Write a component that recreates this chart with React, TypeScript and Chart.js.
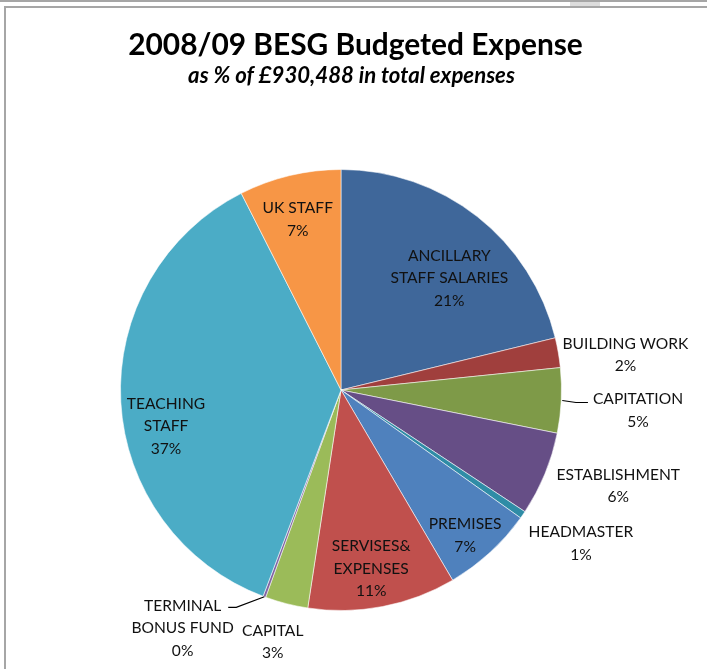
import React, { useEffect, useRef } from "react";
import { Chart, registerables } from "chart.js";

Chart.register(...registerables);

// ---- data ----
const categories: string[][] = [
  ["ANCILLARY", "STAFF SALARIES"],
  ["BUILDING WORK"],
  ["CAPITATION"],
  ["ESTABLISHMENT"],
  ["HEADMASTER"],
  ["PREMISES"],
  ["SERVISES&", "EXPENSES"],
  ["CAPITAL"],
  ["TERMINAL", "BONUS FUND"],
  ["TEACHING", "STAFF"],
  ["UK STAFF"],
];
const shares: number[] = [21.2, 2.18, 4.76, 6.16, 0.55, 6.7, 10.86, 3.14, 0.2, 36.78, 7.47];
const TITLE = "2008/09 BESG Budgeted Expense";
const SUBTITLE = "as % of £930,488 in total expenses";

// ---- styles / layout ----
const colors = [
  "#3F679A",
  "#A03F3D",
  "#7E9A48",
  "#664E86",
  "#2F8CA6",
  "#4F81BD",
  "#C0504D",
  "#9BBB59",
  "#8064A2",
  "#4BACC6",
  "#F79646",
];
// label anchor: [angle in degrees clockwise from 12 o'clock, distance as fraction of radius]
const labelPolar: [number, number][] = [
  [44.0, 0.707],
  [82.9, 1.3],
  [93.8, 1.35],
  [109, 1.33],
  [122.5, 1.29],
  [139.4, 0.865],
  [170.4, 0.82],
  [195.2, 1.181],
  [213.66, 1.296],
  [258.4, 0.81],
  [345.8, 0.8],
];
const leaderIdx = [2, 8];
const FONT = "Lato, 'Open Sans', sans-serif";
const LINE_H = 22.5;

function fitSize(ctx: CanvasRenderingContext2D, text: string, prefix: string, target: number) {
  ctx.font = `${prefix} 100px ${FONT}`;
  const w = ctx.measureText(text).width;
  return (100 * target) / w;
}

export default function App() {
  const ref = useRef<HTMLCanvasElement>(null);

  useEffect(() => {
    const canvas = ref.current!;
    const total = shares.reduce((a, b) => a + b, 0);

    const labelPlugin = {
      id: "pieLabels",
      afterDraw(chart: any) {
        const ctx: CanvasRenderingContext2D = chart.ctx;
        const meta = chart.getDatasetMeta(0);
        const arc0 = meta.data[0];
        const cx = arc0.x;
        const cy = arc0.y;
        const R = arc0.outerRadius;
        ctx.save();

        // Title
        const tSize = fitSize(ctx, TITLE, "bold", 455);
        ctx.font = `bold ${tSize}px ${FONT}`;
        ctx.fillStyle = "#000";
        ctx.textAlign = "center";
        ctx.textBaseline = "alphabetic";
        ctx.fillText(TITLE, 355.5, 55);
        const sSize = fitSize(ctx, SUBTITLE, "italic bold", 327);
        ctx.font = `italic bold ${sSize}px ${FONT}`;
        ctx.fillText(SUBTITLE, 351.5, 83);

        // Labels
        const lSize = fitSize(ctx, "BUILDING WORK", "", 126);
        ctx.font = `${lSize}px ${FONT}`;
        const capH = 0.716 * lSize;
        ctx.fillStyle = "#111";
        ctx.strokeStyle = "#000";
        ctx.lineWidth = 1.2;

        shares.forEach((v, i) => {
          const lines = [...categories[i], Math.round((v / total) * 100) + "%"];
          const [deg, rf] = labelPolar[i];
          const th = (deg * Math.PI) / 180;
          const lx = cx + rf * R * Math.sin(th);
          const ly = cy - rf * R * Math.cos(th);
          const n = lines.length;
          lines.forEach((t, k) => {
            const yc = ly + (k - (n - 1) / 2) * LINE_H;
            ctx.fillText(t, lx, yc + capH / 2);
          });

          if (leaderIdx.includes(i)) {
            const el = meta.data[i];
            const mid = (el.startAngle + el.endAngle) / 2;
            const sx = cx + R * Math.cos(mid);
            const sy = cy + R * Math.sin(mid);
            const w0 = ctx.measureText(lines[0]).width;
            const y0 = ly - ((n - 1) / 2) * LINE_H;
            ctx.beginPath();
            if (Math.cos(mid) > 0) {
              const ex = lx - w0 / 2 - 5;
              const ey = y0 + 4;
              ctx.moveTo(sx + 1, sy);
              ctx.lineTo(ex - 12, ey);
              ctx.lineTo(ex, ey);
            } else {
              const ex = lx + w0 / 2 + 7;
              const ey = y0 + 2;
              ctx.moveTo(sx, sy);
              ctx.lineTo(ex + 8, ey);
              ctx.lineTo(ex, ey);
            }
            ctx.stroke();
          }
        });
        ctx.restore();
      },
    };

    const chart = new Chart(canvas, {
      type: "pie",
      data: {
        labels: categories.map((c) => c.join(" ")),
        datasets: [
          {
            data: shares,
            backgroundColor: colors,
            borderColor: "rgba(255,255,255,0.55)",
            borderWidth: 1,
          },
        ],
      },
      options: {
        responsive: false,
        animation: false,
        devicePixelRatio: 1,
        layout: { padding: { left: 120, right: 145, top: 169, bottom: 58 } },
        plugins: {
          legend: { display: false },
          title: { display: false },
          tooltip: { enabled: false },
        },
      },
      plugins: [labelPlugin],
    });
    return () => chart.destroy();
  }, []);

  return (
    <div style={{ position: "absolute", left: 0, top: 0, width: 707, height: 669, background: "#fff", overflow: "hidden" }}>
      <div style={{ position: "absolute", left: 0, top: 0, width: 707, height: 2, background: "#a6a6a6" }} />
      <div style={{ position: "absolute", left: 570, top: 2, width: 30, height: 4, background: "#dcdcdc" }} />
      <div
        style={{
          position: "absolute",
          left: 4,
          top: 6,
          width: 710,
          height: 700,
          borderTop: "2px solid #a6a6a6",
          borderLeft: "2px solid #a6a6a6",
        }}
      />
      <canvas ref={ref} width={707} height={669} style={{ position: "absolute", left: 0, top: 0, width: 707, height: 669 }} />
    </div>
  );
}
